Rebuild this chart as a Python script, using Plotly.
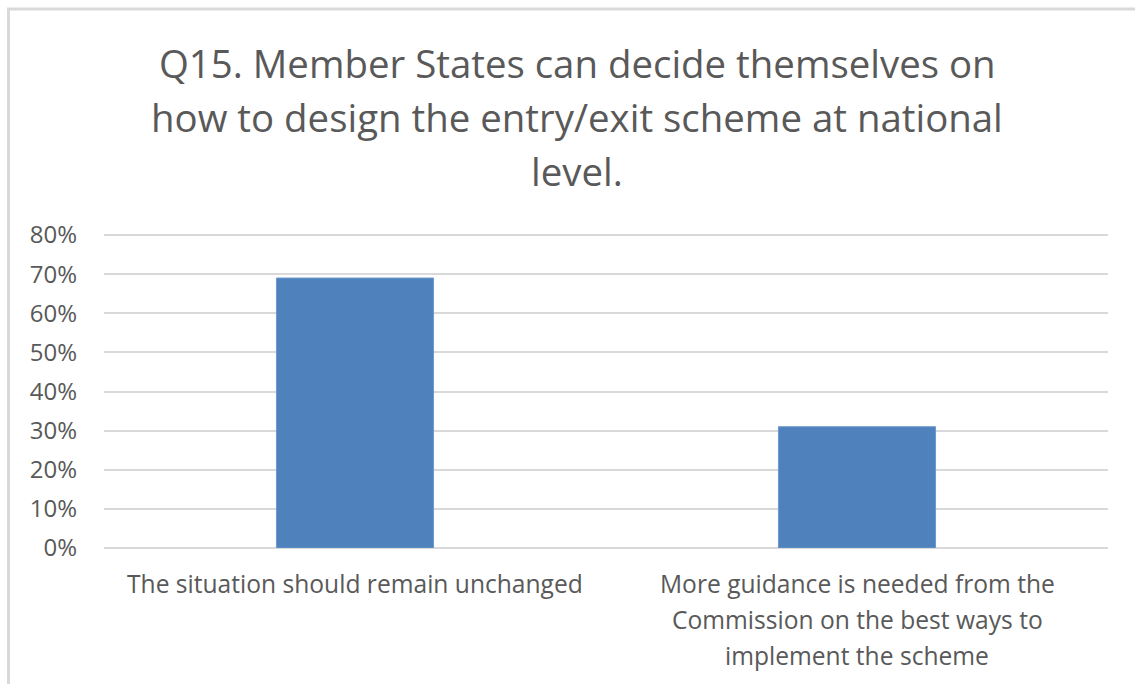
import plotly.graph_objects as go

# Survey answers and their shares
categories = [
    "The situation should remain unchanged",
    "More guidance is needed from the Commission on the best ways to implement the scheme",
]
label_lines = [
    ["The situation should remain unchanged"],
    ["More guidance is needed from the", "Commission on the best ways to", "implement the scheme"],
]
shares = [0.69, 0.31]
y_ticks = [0.0, 0.1, 0.2, 0.3, 0.4, 0.5, 0.6, 0.7, 0.8]
title_lines = [
    "Q15. Member States can decide themselves on",
    "how to design the entry/exit scheme at national",
    "level.",
]

W, H = 1135, 684
AXIS_TOP_PX = 235  # pixel row of the 80% gridline
M_L, M_R, M_T, M_B = 104, 27, 230, 136
PLOT_W = W - M_L - M_R
PLOT_H = H - M_T - M_B
# leave a little headroom so the top gridline is not clipped
Y_MAX = y_ticks[-1] * PLOT_H / (H - M_B - AXIS_TOP_PX)

TEXT = "#595959"
GRID = "#d9d9d9"
FONT = "Open Sans, Lato, Noto Sans, sans-serif"


def px_x(px):
    return (px - M_L) / PLOT_W


def px_y(py):
    return (H - M_B - py) / PLOT_H


fig = go.Figure(
    go.Bar(
        x=categories,
        y=shares,
        marker=dict(color="#4f81bd", line=dict(color="#6e99cf", width=1)),
        hoverinfo="x+y",
    )
)

annotations = []
# Title, one line per annotation for Office-like line spacing
for i, line in enumerate(title_lines):
    annotations.append(dict(
        text=line, xref="paper", yref="paper",
        x=px_x(577), y=px_y(63 + 54 * i),
        xanchor="center", yanchor="middle", showarrow=False,
        font=dict(family=FONT, size=38.4, color=TEXT),
    ))

# Category labels under each bar
for cat, lines in zip(categories, label_lines):
    for j, line in enumerate(lines):
        annotations.append(dict(
            text=line, xref="x", yref="paper",
            x=cat, y=px_y(583 + 36 * j),
            xanchor="center", yanchor="middle", showarrow=False,
            font=dict(family=FONT, size=24.6, color=TEXT),
        ))

border = dict(color=GRID, width=3)
shapes = [
    dict(type="line", xref="paper", yref="paper",
         x0=px_x(7), x1=px_x(W), y0=px_y(9), y1=px_y(9), line=border),
    dict(type="line", xref="paper", yref="paper",
         x0=px_x(8.5), x1=px_x(8.5), y0=px_y(9), y1=px_y(H), line=border),
]

fig.update_layout(
    width=W, height=H,
    margin=dict(l=M_L, r=M_R, t=M_T, b=M_B),
    paper_bgcolor="white", plot_bgcolor="white",
    bargap=0.687,
    showlegend=False,
    font=dict(family=FONT, color=TEXT),
    annotations=annotations,
    shapes=shapes,
    xaxis=dict(showticklabels=False, showgrid=False, zeroline=False,
               showline=False, ticks=""),
    yaxis=dict(
        range=[0, Y_MAX], tickvals=y_ticks, tickformat=".0%",
        showgrid=True, gridcolor=GRID, gridwidth=2,
        zeroline=True, zerolinecolor=GRID, zerolinewidth=2,
        showline=False, ticks="", ticklabelstandoff=26,
        tickfont=dict(family=FONT, size=24, color=TEXT),
    ),
)

fig.write_html("out.html")
